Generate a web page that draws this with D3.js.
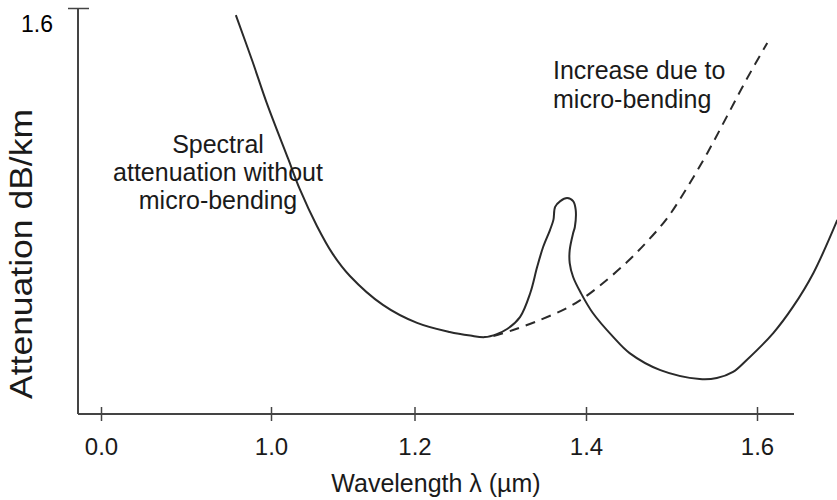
<!DOCTYPE html>
<html>
<head>
<meta charset="utf-8">
<script src="https://cdn.jsdelivr.net/npm/d3@7/dist/d3.min.js"></script>
<style>
  html, body { margin: 0; padding: 0; background: #fff; }
  svg { display: block; font-family: "Liberation Sans", Arial, sans-serif; }
</style>
</head>
<body>
<svg id="chart" width="837" height="500"></svg>
<script>
// ---- data (wavelength in µm, attenuation in dB/km) ----
const xTickValues = [0.0, 1.0, 1.2, 1.4, 1.6];
const xTickLabels = ["0.0", "1.0", "1.2", "1.4", "1.6"];
const yTickValues = [1.6];
const yTickLabels = ["1.6"];

// spectral attenuation without micro-bending (solid, includes the OH peak loop)
const solidWavelength = [0.951, 0.974, 0.994, 1.024, 1.040, 1.064, 1.086, 1.110, 1.156, 1.203, 1.241,
  1.265, 1.282, 1.296, 1.308, 1.323, 1.335, 1.343, 1.350, 1.358, 1.362, 1.364, 1.370, 1.378,
  1.385, 1.388, 1.387, 1.385, 1.381, 1.381, 1.385, 1.394, 1.408, 1.432, 1.451, 1.487, 1.533,
  1.553, 1.572, 1.588, 1.619, 1.642, 1.666, 1.694];
const solidAttenuation = [1.572, 1.391, 1.226, 1.005, 0.887, 0.741, 0.631, 0.544, 0.430, 0.359, 0.323,
  0.309, 0.303, 0.315, 0.335, 0.382, 0.477, 0.579, 0.658, 0.725, 0.765, 0.816, 0.839, 0.851,
  0.839, 0.804, 0.737, 0.713, 0.646, 0.595, 0.540, 0.477, 0.398, 0.303, 0.240, 0.173, 0.138,
  0.142, 0.166, 0.213, 0.319, 0.422, 0.556, 0.765];

// increase due to micro-bending (dashed)
const dashedWavelength = [1.292, 1.315, 1.346, 1.378, 1.397, 1.420, 1.448, 1.471, 1.495, 1.518,
  1.542, 1.565, 1.588, 1.612];
const dashedAttenuation = [0.307, 0.331, 0.370, 0.418, 0.457, 0.516, 0.599, 0.678, 0.772, 0.891,
  1.029, 1.174, 1.320, 1.462];

const leftNote = ["Spectral", "attenuation without", "micro-bending"];
const rightNote = ["Increase due to", "micro-bending"];
const xTitle = "Wavelength λ (µm)";
const yTitle = "Attenuation dB/km";

// ---- layout ----
const svg = d3.select("#chart");
const ink = "#2a2a2a";
const axisX0 = 78, axisX1 = 794, axisY = 414, axisTop = 8;

// broken wavelength axis (0.0 then 1.0 ... 1.6)
const x = d3.scaleLinear()
  .domain([0.0, 0.9, 1.0, 1.2, 1.4, 1.6])
  .range([101, 199.25, 271, 414.5, 586, 757]);
const y = d3.scaleLinear().domain([0, 1.6]).range([axisY, axisTop]);

// axis lines
svg.append("line").attr("x1", axisX0).attr("x2", axisX1).attr("y1", axisY).attr("y2", axisY)
  .attr("stroke", "#444").attr("stroke-width", 2);
svg.append("line").attr("x1", axisX0).attr("x2", axisX0).attr("y1", axisTop).attr("y2", axisY)
  .attr("stroke", "#444").attr("stroke-width", 2);

// x axis ticks
const gx = svg.append("g").attr("transform", `translate(0,${axisY})`)
  .call(d3.axisBottom(x).tickValues(xTickValues).tickFormat((d, i) => xTickLabels[i]));
gx.select(".domain").remove();
gx.selectAll(".tick line").attr("y1", -7).attr("y2", 7).attr("stroke", "#444").attr("stroke-width", 1.5);
gx.selectAll(".tick text").attr("y", 41).attr("dy", 0)
  .attr("font-size", 24).attr("fill", "#1a1a1a").attr("font-family", "Liberation Sans, Arial, sans-serif");

// y axis ticks
const gy = svg.append("g").attr("transform", `translate(${axisX0},0)`)
  .call(d3.axisLeft(y).tickValues(yTickValues).tickFormat((d, i) => yTickLabels[i]));
gy.select(".domain").remove();
gy.selectAll(".tick line").attr("x1", -10).attr("x2", 11).attr("stroke", "#444").attr("stroke-width", 1.5);
gy.selectAll(".tick text").attr("x", -25).attr("y", 23).attr("dy", 0)
  .attr("font-size", 23).attr("fill", "#000").attr("text-anchor", "end")
  .attr("font-family", "Liberation Sans, Arial, sans-serif");

// curves
const solidData = solidWavelength.map((w, i) => [w, solidAttenuation[i]]);
const dashedData = dashedWavelength.map((w, i) => [w, dashedAttenuation[i]]);
const line = d3.line().x(d => x(d[0])).y(d => y(d[1])).curve(d3.curveCatmullRom.alpha(0.5));

svg.append("path").datum(dashedData).attr("d", line)
  .attr("fill", "none").attr("stroke", ink).attr("stroke-width", 2).attr("stroke-dasharray", "10,7");
svg.append("path").datum(solidData).attr("d", line)
  .attr("fill", "none").attr("stroke", ink).attr("stroke-width", 2);

// annotations
const t1 = svg.append("text").attr("font-size", 25).attr("fill", "#1a1a1a").attr("text-anchor", "middle");
leftNote.forEach((s, i) => t1.append("tspan").attr("x", 218).attr("y", 153 + i * 28).text(s));
const t2 = svg.append("text").attr("font-size", 25).attr("fill", "#1a1a1a").attr("text-anchor", "start");
rightNote.forEach((s, i) => t2.append("tspan").attr("x", 553).attr("y", 79 + i * 29).text(s));

// axis titles
svg.append("text").attr("x", 436).attr("y", 492).attr("text-anchor", "middle")
  .attr("font-size", 25).attr("fill", "#1a1a1a").text(xTitle);
svg.append("text").attr("transform", "translate(32,254) rotate(-90)").attr("text-anchor", "middle")
  .attr("font-size", 31).attr("fill", "#1a1a1a").attr("textLength", 290).attr("lengthAdjust", "spacingAndGlyphs")
  .text(yTitle);
</script>
</body>
</html>
